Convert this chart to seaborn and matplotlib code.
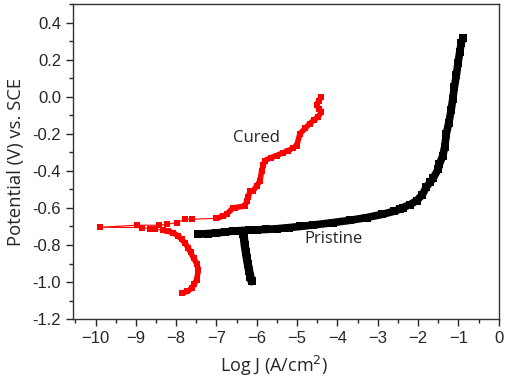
import matplotlib
matplotlib.use('Agg')
import matplotlib.pyplot as plt
import seaborn as sns
from matplotlib.ticker import MultipleLocator


# Cured sample (red): cathodic branch, bottom to top
cured_cat_logj = [-7.86, -7.72, -7.61, -7.55, -7.49, -7.45, -7.49, -7.57, -7.64, -7.70, -7.78, -7.86,
                  -7.96, -8.07, -8.20, -8.32]
cured_cat_pot  = [-1.060, -1.050, -1.033, -1.010, -0.987, -0.933, -0.900, -0.870, -0.840, -0.815, -0.790, -0.770,
                  -0.750, -0.734, -0.726, -0.721]

# Cured: sparse points around Ecorr
cured_ecorr_logj = [-8.32, -8.52, -8.66, -8.84, -9.88, -8.98, -8.42, -8.22, -7.99, -7.78, -7.60, -7.00]
cured_ecorr_pot  = [-0.721, -0.715, -0.712, -0.706, -0.704, -0.693, -0.693, -0.688, -0.679, -0.661, -0.661, -0.656]

# Cured: anodic branch
cured_an_logj = [-7.00, -6.83, -6.75, -6.58, -6.54, -6.29, -6.25, -6.21,
                 -6.17, -6.09, -6.00, -5.92, -5.88, -5.84, -5.80, -5.66, -5.51, -5.36, -5.22,
                 -5.10, -5.01, -4.93, -4.80, -4.69, -4.58, -4.48, -4.40, -4.45, -4.52, -4.46, -4.40]
cured_an_pot  = [-0.656, -0.643, -0.634, -0.598, -0.598, -0.589, -0.561, -0.543,
                 -0.507, -0.507, -0.480, -0.453, -0.398, -0.370, -0.344, -0.330, -0.317, -0.303, -0.290,
                 -0.276, -0.263, -0.199, -0.170, -0.145, -0.125, -0.109, -0.082, -0.065, -0.045, -0.020, 0.0]

# Pristine sample (black): anodic branch
pristine_logj = [-7.45, -7.20, -7.00, -6.80, -6.59, -6.40, -6.20, -6.00, -5.76, -5.50, -5.20, -4.93,
                 -4.60, -4.11, -3.70, -3.28, -2.90, -2.60, -2.46, -2.38, -2.20, -2.04, -1.90, -1.80,
                 -1.70, -1.63, -1.50, -1.47, -1.39, -1.34, -1.30, -1.24, -1.18, -1.14, -1.10, -1.05,
                 -1.01, -0.97, -0.93, -0.89]
pristine_pot  = [-0.742, -0.738, -0.735, -0.730, -0.725, -0.722, -0.720, -0.718, -0.716, -0.712, -0.706, -0.700,
                 -0.692, -0.679, -0.667, -0.652, -0.635, -0.618, -0.607, -0.598, -0.582, -0.561, -0.530, -0.489,
                 -0.460, -0.440, -0.390, -0.362, -0.320, -0.270, -0.199, -0.140, -0.072, -0.010, 0.054, 0.120,
                 0.182, 0.240, 0.290, 0.317]

# Pristine: cathodic branch
pristine_cat_logj = [-6.34, -6.32, -6.30, -6.27, -6.25, -6.22, -6.19, -6.16, -6.13]
pristine_cat_pot  = [-0.740, -0.761, -0.800, -0.840, -0.870, -0.905, -0.940, -0.970, -0.996]

yticks = [-1.2, -1.0, -0.8, -0.6, -0.4, -0.2, 0.0, 0.2, 0.4]


sns.set_style('ticks')
plt.rcParams['font.family'] = ['Liberation Sans', 'DejaVu Sans']
label_font = ['Open Sans', 'DejaVu Sans']

fig = plt.figure(figsize=(5.1, 3.79), dpi=100)
ax = fig.add_axes([0.143, 0.158, 0.835, 0.831])

sns.lineplot(x=cured_cat_logj, y=cured_cat_pot, sort=False, ax=ax, color='red', lw=4,
             marker='s', markersize=5, markeredgewidth=0, estimator=None)
sns.lineplot(x=cured_ecorr_logj, y=cured_ecorr_pot, sort=False, ax=ax, color='red', lw=0.8,
             marker='s', markersize=4.5, markeredgewidth=0, estimator=None)
sns.lineplot(x=cured_an_logj, y=cured_an_pot, sort=False, ax=ax, color='red', lw=4,
             marker='s', markersize=5, markeredgewidth=0, estimator=None)
sns.lineplot(x=pristine_logj, y=pristine_pot, sort=False, ax=ax, color='black', lw=5.5,
             marker='s', markersize=6, markeredgewidth=0, estimator=None)
sns.lineplot(x=pristine_cat_logj, y=pristine_cat_pot, sort=False, ax=ax, color='black', lw=6,
             marker='s', markersize=6, markeredgewidth=0, estimator=None)

ax.text(-6.0, -0.22, 'Cured', fontsize=12, ha='center', va='center', family=label_font)
ax.text(-4.11, -0.77, 'Pristine', fontsize=12, ha='center', va='center', family=label_font)

ax.set_xlim(-10.56, 0)
ax.set_ylim(-1.2, 0.5)
ax.set_xticks(range(-10, 1))
ax.set_yticks(yticks)
ax.set_yticklabels([f'{v:.1f}' for v in yticks])
ax.xaxis.set_minor_locator(MultipleLocator(0.5))
ax.yaxis.set_minor_locator(MultipleLocator(0.1))
ax.tick_params(which='major', length=5, width=1, labelsize=12, direction='out')
ax.tick_params(which='minor', length=3, width=1, direction='out')

ax.set_xlabel('Log J (A/cm$^2$)', fontsize=13, family=label_font)
ax.set_ylabel('Potential (V) vs. SCE', fontsize=13.3, family=label_font)
ax.xaxis.set_label_coords(0.472, -0.112)
ax.yaxis.set_label_coords(-0.113, 0.5)

for s in ax.spines.values():
    s.set_linewidth(1)
    s.set_color('#333333')

plt.savefig('out.png', dpi=100)
